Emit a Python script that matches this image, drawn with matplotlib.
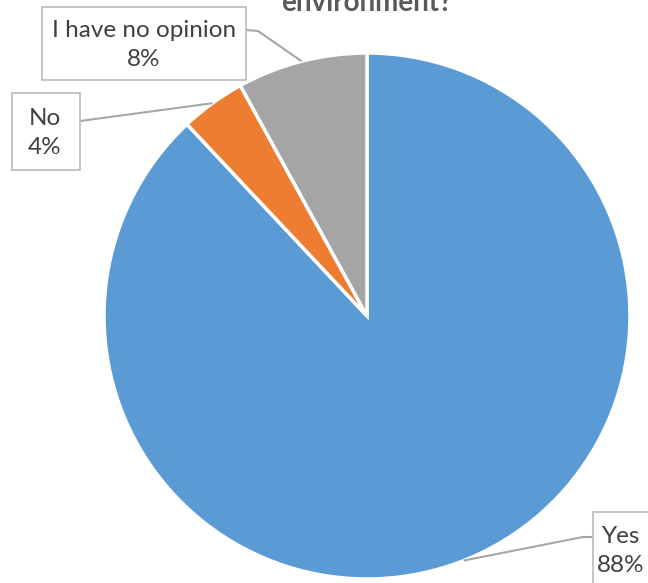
import matplotlib.pyplot as plt
from matplotlib.patches import Rectangle
import numpy as np

# survey answers
labels = ["Yes", "No", "I have no opinion"]
shares = [88, 4, 8]
colors = ["#5B9BD5", "#ED7D31", "#A5A5A5"]

W, H = 648, 583
fig = plt.figure(figsize=(W / 100, H / 100), dpi=100)
ax = fig.add_axes([0, 0, 1, 1])

plt.rcParams['font.family'] = ['Lato', 'DejaVu Sans']

cx, cy, r = 367, H - 316, 263
wedges, _ = ax.pie(shares, colors=colors, startangle=90, counterclock=False,
                   center=(cx, cy), radius=r, frame=True,
                   wedgeprops=dict(edgecolor="white", linewidth=2.5))
ax.set_xlim(0, W)
ax.set_ylim(0, H)
ax.axis("off")

# title (only last line visible, cropped at top like the source)
ax.text(367, H - 11, "environment?", ha="center", va="baseline",
        fontsize=20, fontweight="bold", color="#595959", zorder=2)

# label boxes: (x0, y0 top, x1, y1 bottom) in pixels, leader elbow points
boxes = {
    "I have no opinion": ((42, 7, 246, 80), [(246, 30), (258, 31)]),
    "No": ((12, 93, 80, 170), [(80, 121)]),
    "Yes": ((593, 512, 660, 600), [(593, 537), (583, 537)]),
}
text_pos = {
    "I have no opinion": (144, 45),
    "No": (45, 133),
    "Yes": (621, 551),
}

total = sum(shares)
start = 90.0
for lab, val in zip(labels, shares):
    ang = start - val / total * 360 / 2
    start -= val / total * 360
    ex = cx + r * np.cos(np.radians(ang))
    ey = cy + r * np.sin(np.radians(ang))
    (x0, y0, x1, y1), pts = boxes[lab]
    xs = [p[0] for p in pts] + [ex]
    ys = [H - p[1] for p in pts] + [ey]
    ax.plot(xs, ys, color="#A6A6A6", lw=1.5, solid_capstyle="butt", zorder=3)
    ax.add_patch(Rectangle((x0, H - y1), x1 - x0, y1 - y0, facecolor="white",
                           edgecolor="#BFBFBF", lw=1.3, zorder=4, clip_on=False))
    tx, ty = text_pos[lab]
    ax.text(tx, H - ty, f"{lab}\n{val}%", ha="center", va="center",
            multialignment="center", fontsize=17.5, color="#404040",
            linespacing=1.5, zorder=5)

fig.savefig("out.png", dpi=100)
